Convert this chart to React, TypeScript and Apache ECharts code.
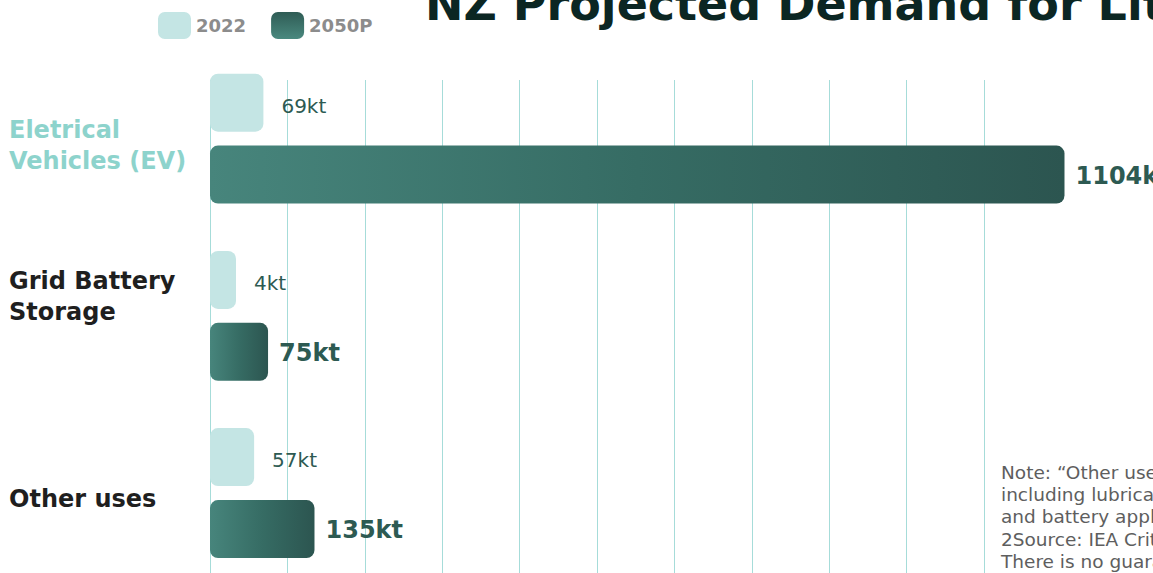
import React, { useEffect, useRef } from "react";
import * as echarts from "echarts";

const categories = ["Eletrical\nVehicles (EV)", "Grid Battery\nStorage", "Other uses"];
const seriesNames = ["2022", "2050P"];
const values2022 = [69, 4, 57];
const values2050 = [1104, 75, 135];
const titleText = "NZ Projected Demand for Lithium";
const noteLines = [
  "Note: “Other uses” include various industrial applications,",
  "including lubricating greases, glass, ceramics and polymers,",
  "and battery applications beyond EVs and grid storage.",
  "2Source: IEA Critical Minerals Outlook 2023.",
  "There is no guarantee that projections will be realised.",
];

const FONT = "'DejaVu Sans', sans-serif";

// label styling per category: style key, spacer before/after (vertical nudge only)
const labelStyleKeys = ["ev", "d", "d"];
const spacerBefore = ["s14", "", "s12"];
const spacerAfter = ["", "s38", ""];

export default function App() {
  const ref = useRef<HTMLDivElement>(null);
  useEffect(() => {
    if (!ref.current) return;
    const chart = echarts.init(ref.current, undefined, { renderer: "svg" });
    const darkGrad = new echarts.graphic.LinearGradient(0, 0, 1, 0, [
      { offset: 0, color: "#47857c" },
      { offset: 0.5, color: "#366c64" },
      { offset: 1, color: "#2c5550" },
    ]);
    const legendGrad = new echarts.graphic.LinearGradient(0, 0, 0, 1, [
      { offset: 0, color: "#2f5c55" },
      { offset: 1, color: "#4a897f" },
    ]);
    const left = 210;
    const right = 169;
    const labelBase = { fontSize: 24, fontWeight: "bold", lineHeight: 31, fontFamily: FONT };
    chart.setOption({
      animation: false,
      textStyle: { fontFamily: FONT },
      legend: {
        left: 158,
        top: 12,
        padding: 0,
        itemWidth: 33,
        itemHeight: 27,
        itemGap: 25,
        icon: "roundRect",
        textStyle: { color: "#8c8c8c", fontSize: 18, fontWeight: "bold", fontFamily: FONT },
        data: [
          { name: seriesNames[0], itemStyle: { color: "#c4e5e4" } },
          { name: seriesNames[1], itemStyle: { color: legendGrad } },
        ],
      },
      grid: [
        { left, right, top: 50, bottom: -8.7, outerBoundsMode: "none" },
        { left, right, top: 80, bottom: 0, outerBoundsMode: "none" },
      ],
      xAxis: [
        { gridIndex: 0, type: "value", min: 0, max: 1000, interval: 100, show: false },
        {
          gridIndex: 1,
          type: "value",
          min: 0,
          max: 1000,
          interval: 100,
          axisLine: { show: false },
          axisTick: { show: false },
          axisLabel: { show: false },
          splitLine: { show: true, lineStyle: { color: "#a6dcd9", width: 1 } },
        },
      ],
      yAxis: [
        {
          gridIndex: 0,
          type: "category",
          inverse: true,
          data: categories,
          axisLine: { show: false },
          axisTick: { show: false },
          axisLabel: {
            align: "left",
            margin: 201,
            formatter: (v: string, i: number) => {
              const key = labelStyleKeys[i];
              const lines = v.split("\n").map((l) => `{${key}|${l}}`);
              if (spacerBefore[i]) lines.unshift(`{${spacerBefore[i]}| }`);
              if (spacerAfter[i]) lines.push(`{${spacerAfter[i]}| }`);
              return lines.join("\n");
            },
            rich: {
              ev: { ...labelBase, color: "#8dd3cc" },
              d: { ...labelBase, color: "#1f1f1f" },
              s14: { fontSize: 2, lineHeight: 14 },
              s12: { fontSize: 2, lineHeight: 12 },
              s38: { fontSize: 2, lineHeight: 38 },
            },
          },
        },
        { gridIndex: 1, type: "value", show: false },
      ],
      series: [
        {
          name: seriesNames[0],
          type: "bar",
          xAxisIndex: 0,
          yAxisIndex: 0,
          data: values2022,
          barWidth: 58,
          barGap: "24%",
          barMinHeight: 26,
          clip: false,
          itemStyle: { color: "#c4e5e4", borderRadius: 8 },
          label: {
            show: true,
            position: "right",
            distance: 18,
            offset: [0, 3],
            formatter: "{c}kt",
            color: "#2d5a52",
            fontSize: 20,
            fontFamily: FONT,
          },
        },
        {
          name: seriesNames[1],
          type: "bar",
          xAxisIndex: 0,
          yAxisIndex: 0,
          data: values2050,
          barWidth: 58,
          barGap: "24%",
          barMinHeight: 26,
          clip: false,
          itemStyle: { color: darkGrad, borderRadius: 8 },
          label: {
            show: true,
            position: "right",
            distance: 11,
            offset: [0, 1],
            formatter: "{c}kt",
            color: "#2d5a52",
            fontSize: 24,
            fontWeight: "bold",
            fontFamily: FONT,
          },
        },
      ],
      graphic: [
        {
          type: "text",
          left: 425,
          top: -19,
          style: {
            text: titleText,
            fill: "#0b2623",
            font: `bold 46px ${FONT}`,
          },
        },
        {
          type: "text",
          left: 1001,
          top: 461,
          style: {
            text: noteLines.join("\n"),
            fill: "#5e5e5e",
            font: `18.5px ${FONT}`,
            lineHeight: 22.3,
          },
        },
      ],
    });
    return () => chart.dispose();
  }, []);
  return (
    <div
      ref={ref}
      style={{ position: "fixed", left: 0, top: 0, width: 1153, height: 573, background: "#ffffff" }}
    />
  );
}
